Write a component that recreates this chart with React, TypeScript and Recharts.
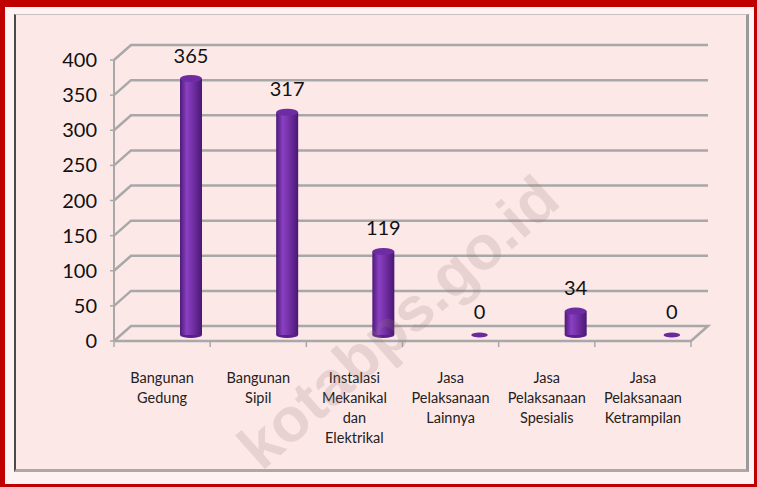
import { BarChart, Bar, XAxis, YAxis, CartesianGrid, LabelList } from 'recharts';

const categories = [
  'Bangunan\nGedung',
  'Bangunan\nSipil',
  'Instalasi\nMekanikal\ndan\nElektrikal',
  'Jasa\nPelaksanaan\nLainnya',
  'Jasa\nPelaksanaan\nSpesialis',
  'Jasa\nPelaksanaan\nKetrampilan',
];
const values = [365, 317, 119, 0, 34, 0];
const yTicks = [0, 50, 100, 150, 200, 250, 300, 350, 400];

const data = categories.map((name, i) => ({ name, value: values[i] }));

// layout of the plot area (front face of the 3D box)
const W = 757;
const H = 487;
const LEFT = 114;
const RIGHT = 691;
const TOP = 60;
const BOTTOM = 341;
const BAND = (RIGHT - LEFT) / categories.length;

// depth offsets used to fake the 3D look
const DEPTH_X = 17;
const DEPTH_Y = -15;
const BAR_DX = 29;
const BAR_DY = -6;

const GRID = '#a8a8a8';
const FONT = 'Lato, "Liberation Sans", sans-serif';

function GridLine(props: any) {
  const { x1, y1, x2 } = props;
  const isFloor = Math.abs(y1 - BOTTOM) < 1.5;
  const bx = x1 + DEPTH_X;
  const by = y1 + DEPTH_Y;
  const ex = x2 + DEPTH_X;
  return (
    <g>
      <polyline
        points={`${x1},${y1} ${bx},${by} ${ex},${by}${isFloor ? ` ${x2},${y1}` : ''}`}
        fill="none"
        stroke={GRID}
        strokeWidth={2.5}
      />
    </g>
  );
}

function Cylinder(props: any) {
  const { x, y, width, height, index } = props;
  const cx = x + width / 2 + BAR_DX;
  const left = cx - width / 2;
  const top = y + BAR_DY;
  const bottom = y + height + BAR_DY;
  const rx = width / 2;
  if (!height || height < 1) {
    return <ellipse cx={cx} cy={bottom} rx={rx * 0.75} ry={2.5} fill="#6a2a9c" />;
  }
  return (
    <g>
      <defs>
        <linearGradient id={`cyl-${index}`} x1="0" y1="0" x2="1" y2="0">
          <stop offset="0%" stopColor="#4d1a78" />
          <stop offset="30%" stopColor="#8a40c2" />
          <stop offset="55%" stopColor="#7632aa" />
          <stop offset="100%" stopColor="#4a1772" />
        </linearGradient>
      </defs>
      <ellipse cx={cx} cy={bottom} rx={rx} ry={3} fill="#5a2088" />
      <rect x={left} y={top} width={width} height={bottom - top} fill={`url(#cyl-${index})`} />
      <ellipse cx={cx} cy={top} rx={rx} ry={3.5} fill="#6e2ca2" />
    </g>
  );
}

function ValueLabel(props: any) {
  const { x, y, width, value } = props;
  return (
    <text
      x={x + width / 2 + BAR_DX}
      y={y + BAR_DY - 16}
      textAnchor="middle"
      fontSize={20}
      fontFamily={FONT}
      fill="#111"
    >
      {value}
    </text>
  );
}

function CategoryTick(props: any) {
  const { x, y, payload, index } = props;
  const half = payload && payload.offset ? payload.offset : BAND / 2;
  const lines = String(payload.value).split('\n');
  return (
    <g>
      <line x1={x - half} y1={y} x2={x - half} y2={y + 6} stroke={GRID} strokeWidth={1.5} />
      {index === categories.length - 1 && (
        <line x1={x + half} y1={y} x2={x + half} y2={y + 6} stroke={GRID} strokeWidth={1.5} />
      )}
      <text x={x} y={y + 42} textAnchor="middle" fontSize={14.5} fontFamily={FONT} fill="#222">
        {lines.map((l, i) => (
          <tspan key={i} x={x} dy={i === 0 ? 0 : 20}>
            {l}
          </tspan>
        ))}
      </text>
    </g>
  );
}

export default function App() {
  return (
    <div style={{ position: 'absolute', left: 0, top: 0, width: W, height: H, background: '#c00000', overflow: 'hidden' }}>
      <div style={{ position: 'absolute', left: 5, top: 7, right: 3, bottom: 3, background: '#fff2f2' }} />
      <div
        style={{
          position: 'absolute',
          left: 14,
          top: 14,
          width: 735,
          height: 458,
          boxSizing: 'border-box',
          background: '#fde8e8',
          borderLeft: '2px solid #4a4a4a',
          borderTop: '1px solid #c8c0c0',
          borderRight: '3px solid #9a9a9a',
          borderBottom: '3px solid #b0a8a8',
        }}
      />
      <div style={{ position: 'absolute', left: 0, top: 0 }}>
        <BarChart
          width={W}
          height={H}
          data={data}
          margin={{ top: TOP, right: W - RIGHT, bottom: H - BOTTOM - 110, left: LEFT - 60 }}
        >
          <CartesianGrid vertical={false} horizontal={(p: any) => <GridLine {...p} />} />
          <YAxis
            width={60}
            domain={[0, 400]}
            ticks={yTicks}
            interval={0}
            tickSize={4}
            tickMargin={13}
            axisLine={{ stroke: GRID, strokeWidth: 2 }}
            tickLine={{ stroke: GRID, strokeWidth: 1.5 }}
            tick={{ fontSize: 20, fontFamily: FONT, fill: '#111' }}
          />
          <XAxis
            dataKey="name"
            height={110}
            interval={0}
            tickSize={0}
            tickMargin={0}
            tickLine={false}
            axisLine={{ stroke: GRID, strokeWidth: 2.5 }}
            tick={(p: any) => <CategoryTick {...p} />}
          />
          <Bar dataKey="value" barSize={22} isAnimationActive={false} shape={(p: any) => <Cylinder {...p} />}>
            <LabelList dataKey="value" content={(p: any) => <ValueLabel {...p} />} />
          </Bar>
        </BarChart>
      </div>
      <svg width={W} height={H} style={{ position: 'absolute', left: 0, top: 0, pointerEvents: 'none' }}>
        <text
          x={398}
          y={322}
          textAnchor="middle"
          dominantBaseline="central"
          fontSize={62}
          fontWeight="bold"
          fontFamily='"Liberation Sans", Arial, sans-serif'
          fill="rgb(150,120,120)"
          opacity={0.2}
          transform="rotate(-41.7 398 322)"
        >
          kotabps.go.id
        </text>
      </svg>
    </div>
  );
}
